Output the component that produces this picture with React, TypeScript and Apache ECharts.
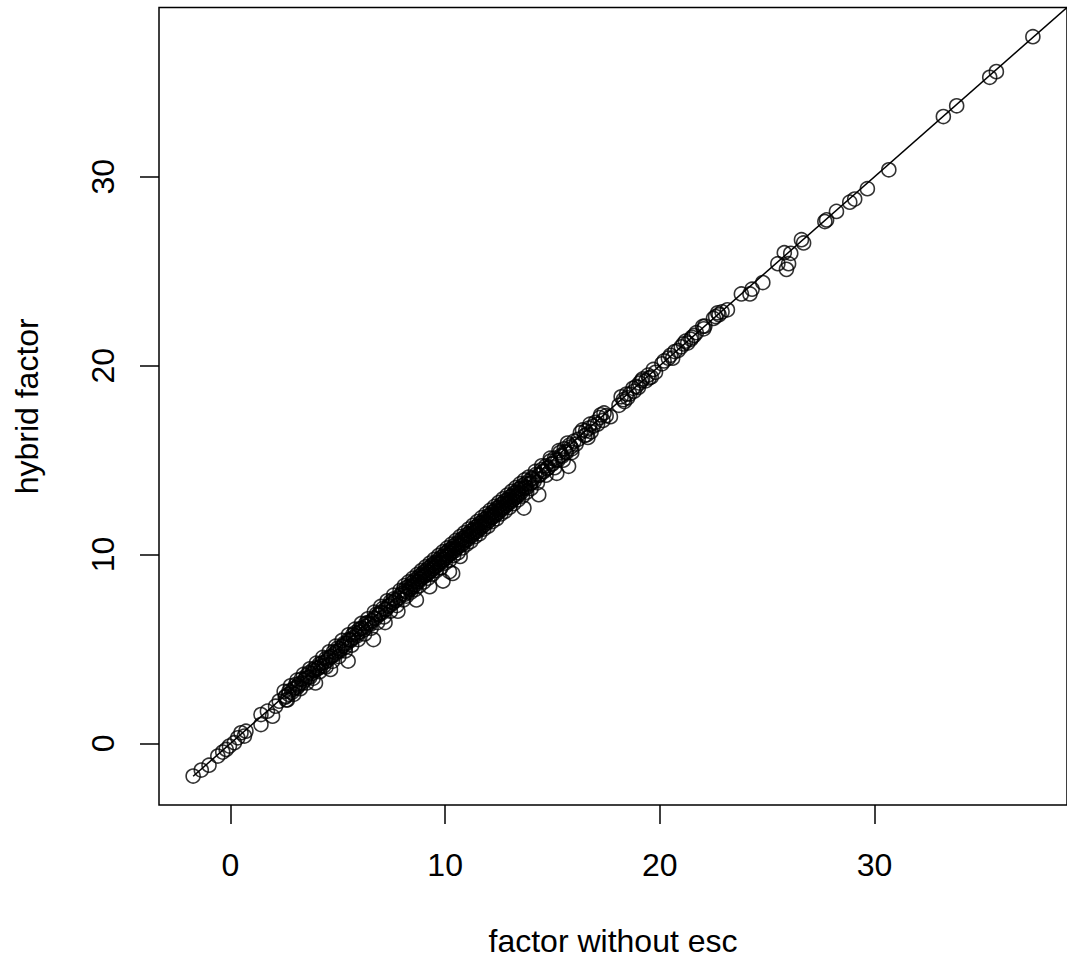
import React, { useEffect, useRef } from "react";
import * as echarts from "echarts";

// Tick labels
const xTicks = [0, 10, 20, 30];
const yTicks = [0, 10, 20, 30];

// Axis ranges (R default 4% expansion)
const xRange = [-3.33, 38.97];
const yRange = [-3.26, 38.96];

// Observations: [factor without esc, hybrid factor]
const lowPoints: [number, number][] = [
  [-1.74, -1.73], [-1.36, -1.41], [-1.0, -1.15], [-0.59, -0.67], [-0.36, -0.46],
  [-0.2, -0.32], [-0.05, -0.14], [0.18, 0.04], [0.34, 0.3], [0.49, 0.56],
  [0.72, 0.65], [0.65, 0.39], [1.42, 1.0], [1.42, 1.53], [1.72, 1.71],
  [1.96, 1.44], [2.1, 1.97], [2.27, 2.24], [2.6, 2.3], [2.57, 2.5],
  [2.73, 2.77], [2.9, 2.85], [3.04, 3.12], [3.1, 2.95], [3.2, 3.15],
];

const midLowPoints: [number, number][] = [
  [3.3, 3.4], [3.45, 3.35], [3.55, 3.6], [3.65, 3.74], [3.7, 3.5],
  [3.85, 3.9], [3.96, 4.0], [3.96, 3.2], [4.05, 3.95], [4.15, 4.2],
  [4.27, 4.26], [4.35, 4.1], [4.45, 4.5], [4.58, 4.53], [4.66, 3.92],
  [4.7, 4.6], [4.8, 4.85], [4.9, 4.8], [5.0, 5.05], [5.1, 4.9],
  [5.2, 5.15], [5.3, 5.3], [5.35, 5.1], [5.48, 4.36], [5.5, 5.5],
  [5.6, 5.45], [5.7, 5.75], [5.8, 5.86], [5.9, 5.7], [6.0, 6.05],
  [6.1, 6.1], [6.2, 6.0], [6.3, 6.35], [6.4, 6.4], [6.5, 6.3],
  [6.66, 5.5], [6.7, 6.65], [6.8, 6.85], [6.9, 6.8], [7.0, 6.95],
  [7.1, 7.15], [7.2, 6.4], [7.25, 7.1], [7.35, 7.26], [7.45, 7.5],
  [7.5, 7.35], [7.6, 7.65], [7.7, 7.55], [7.8, 7.0], [7.9, 7.85],
];

const denseLowPoints: [number, number][] = [
  [2.5, 2.75], [2.65, 2.3], [2.8, 3.05], [2.95, 2.6], [3.1, 3.35],
  [3.25, 2.9], [3.4, 3.65], [3.55, 3.2], [3.7, 3.95], [3.85, 3.45],
  [4.0, 4.25], [4.15, 3.8], [4.3, 4.55], [4.45, 4.05], [4.6, 4.85],
  [4.75, 4.35], [4.9, 5.15], [5.05, 4.6], [5.2, 5.45], [5.35, 4.9],
  [5.5, 5.75], [5.65, 5.2], [5.8, 6.05], [5.95, 5.5], [6.1, 6.35],
  [6.25, 5.8], [6.4, 6.6], [6.55, 6.1], [6.7, 6.95], [6.85, 6.4],
  [7.0, 7.25], [7.15, 6.7], [7.3, 7.55], [7.45, 7.0], [7.6, 7.85],
  [7.75, 7.3], [7.9, 8.1], [8.05, 7.6],
];

const midPoints: [number, number][] = [
  [8.0, 7.95], [8.05, 8.1], [8.12, 7.9], [8.2, 8.25], [8.25, 8.0],
  [8.3, 8.3], [8.38, 8.15], [8.45, 8.5], [8.5, 8.3], [8.55, 8.6],
  [8.62, 8.4], [8.66, 7.6], [8.7, 8.75], [8.75, 8.55], [8.8, 8.85],
  [8.85, 8.7], [8.9, 8.95], [8.95, 8.8], [9.0, 9.05], [9.05, 8.85],
  [9.1, 9.15], [9.15, 8.95], [9.2, 9.25], [9.25, 9.05], [9.28, 8.3],
  [9.3, 9.35], [9.35, 9.15], [9.4, 9.45], [9.45, 9.25], [9.5, 9.55],
  [9.55, 9.35], [9.6, 9.6], [9.65, 9.45], [9.7, 9.75], [9.75, 9.55],
  [9.8, 9.85], [9.85, 9.6], [9.9, 8.6], [9.9, 9.9], [9.95, 9.75],
  [10.0, 10.05], [10.05, 9.85], [10.1, 10.15], [10.15, 9.95], [10.2, 9.1],
  [10.2, 10.25], [10.25, 10.05], [10.3, 10.3], [10.35, 9.0], [10.35, 10.15],
  [10.4, 10.45], [10.45, 10.2], [10.5, 10.55], [10.55, 10.35], [10.6, 10.6],
  [10.65, 10.45], [10.7, 9.9], [10.7, 10.75], [10.75, 10.5], [10.8, 10.85],
  [10.85, 10.6], [10.9, 10.9], [10.95, 10.75], [11.0, 11.05], [11.05, 10.8],
  [11.1, 11.1], [11.15, 10.95], [11.2, 11.25], [11.25, 11.0], [11.3, 11.3],
  [11.35, 11.15], [11.4, 11.45], [11.45, 11.2], [11.5, 11.5], [11.55, 11.3],
  [11.6, 11.65], [11.65, 11.4], [11.7, 11.7], [11.75, 11.5], [11.8, 11.85],
  [11.85, 11.6], [11.9, 11.9], [11.95, 11.7], [12.0, 12.05], [12.05, 11.8],
  [12.1, 12.1], [12.15, 11.95], [12.2, 12.25], [12.25, 12.0], [12.3, 12.3],
  [12.35, 12.1], [12.4, 12.45], [12.45, 12.2], [12.5, 12.5], [12.55, 12.3],
  [12.6, 12.65], [12.65, 12.4], [12.7, 12.7], [12.75, 12.5], [12.8, 12.85],
  [12.85, 12.6], [12.9, 12.9], [12.95, 12.7], [13.0, 13.05], [13.05, 12.8],
  [13.1, 13.1], [13.15, 12.9], [13.2, 13.25], [13.25, 13.0], [13.3, 13.3],
  [13.35, 13.1], [13.4, 13.45], [13.45, 13.2], [13.5, 13.5], [13.55, 13.3],
  [13.6, 13.65], [13.67, 12.46], [13.7, 13.5], [13.75, 13.75], [13.8, 13.55],
  [13.9, 13.9], [14.0, 13.8], [14.05, 14.05], [14.15, 13.9], [14.25, 14.25],
  [14.36, 13.17], [14.4, 14.2], [14.5, 14.5], [14.6, 14.4], [14.7, 14.7],
  [14.8, 14.6], [14.9, 14.95], [15.0, 14.8], [15.1, 15.1], [15.2, 14.3],
  [15.25, 15.0], [15.35, 15.4], [15.45, 15.2], [15.55, 15.6], [15.65, 15.4],
  [15.75, 14.67], [15.8, 15.8], [15.9, 15.6], [16.0, 16.0], [16.1, 15.85],
];

const denseMidPoints: [number, number][] = [
  [8.1, 8.35], [8.2, 7.8], [8.3, 8.55], [8.4, 8.0], [8.5, 8.75],
  [8.6, 8.15], [8.7, 8.95], [8.8, 8.35], [8.9, 9.15], [9.0, 8.55],
  [9.1, 9.35], [9.2, 8.75], [9.3, 9.55], [9.4, 8.95], [9.5, 9.75],
  [9.6, 9.15], [9.7, 9.95], [9.8, 9.3], [9.9, 10.15], [10.0, 9.55],
  [10.1, 10.35], [10.2, 9.7], [10.3, 10.55], [10.4, 9.95], [10.5, 10.75],
  [10.6, 10.1], [10.7, 10.95], [10.8, 10.35], [10.9, 11.15], [11.0, 10.55],
  [11.1, 11.35], [11.2, 10.7], [11.3, 11.55], [11.4, 10.95], [11.5, 11.75],
  [11.6, 11.1], [11.7, 11.95], [11.8, 11.35], [11.9, 12.15], [12.0, 11.5],
  [12.1, 12.35], [12.2, 11.75], [12.3, 12.55], [12.4, 11.9], [12.5, 12.75],
  [12.6, 12.15], [12.7, 12.95], [12.8, 12.3], [12.9, 13.15], [13.0, 12.5],
  [13.1, 13.35], [13.2, 12.7], [13.3, 13.55], [13.4, 12.9], [13.5, 13.75],
  [13.6, 13.1], [13.7, 13.95], [13.8, 13.3], [13.9, 14.1], [14.0, 13.5],
  [14.2, 14.4], [14.3, 13.8], [14.5, 14.7], [14.7, 14.2], [14.9, 15.1],
  [15.1, 14.6], [15.3, 15.5], [15.5, 15.0], [15.7, 15.9], [15.9, 15.4],
];

const bandPoints: [number, number][] = [
  [2.55, 2.45], [2.7, 2.6], [2.85, 2.7], [3.0, 2.95], [3.15, 3.05],
  [3.35, 3.2], [3.5, 3.45], [3.62, 3.5], [3.8, 3.7], [3.92, 3.85],
  [4.1, 4.0], [4.22, 4.1], [4.4, 4.3], [4.52, 4.4], [4.68, 4.6],
  [4.85, 4.7], [4.98, 4.9], [5.12, 5.0], [5.28, 5.2], [5.42, 5.3],
  [5.58, 5.5], [5.72, 5.6], [5.88, 5.8], [6.02, 5.9], [6.15, 6.1],
  [6.32, 6.2], [6.45, 6.35], [6.6, 6.5], [6.75, 6.6], [6.92, 6.85],
  [7.05, 6.9], [7.22, 7.1], [7.38, 7.3], [7.55, 7.45], [7.68, 7.6],
  [7.85, 7.7], [8.15, 8.05], [8.35, 8.2], [8.48, 8.4], [8.68, 8.55],
  [8.82, 8.7], [9.02, 8.9], [9.18, 9.05], [9.38, 9.25], [9.52, 9.4],
  [9.72, 9.6], [9.88, 9.75], [10.08, 9.95], [10.22, 10.1], [10.42, 10.3],
  [10.58, 10.45], [10.78, 10.65], [10.92, 10.8], [11.12, 11.0], [11.28, 11.15],
  [11.48, 11.35], [11.62, 11.5], [11.82, 11.7], [11.98, 11.85], [12.18, 12.05],
  [12.32, 12.2], [12.52, 12.4], [12.68, 12.55], [12.88, 12.75], [13.02, 12.9],
  [13.22, 13.1], [13.38, 13.25], [13.58, 13.45], [13.72, 13.6], [13.95, 13.75],
  [14.1, 14.0], [14.35, 14.2], [14.55, 14.4], [14.75, 14.55], [14.95, 14.8],
  [15.15, 15.0], [15.4, 15.25], [15.6, 15.45], [15.85, 15.7],
];

const highPoints: [number, number][] = [
  [16.4, 16.6], [16.5, 16.3], [16.6, 16.35], [16.7, 16.7], [16.8, 16.5],
  [16.9, 16.8], [17.0, 17.0], [17.2, 17.25], [17.35, 17.1], [17.4, 17.5],
  [17.7, 17.3], [18.1, 17.9], [18.3, 18.2], [18.45, 18.5], [18.6, 18.5],
  [18.75, 18.8], [18.9, 18.9], [19.06, 19.08], [19.2, 19.3], [19.35, 19.2],
  [19.45, 19.5], [19.6, 19.4], [19.7, 19.8], [20.1, 20.1], [20.4, 20.4],
  [20.7, 20.75], [20.85, 20.8], [21.0, 21.0], [21.2, 21.3], [21.45, 21.4],
  [21.6, 21.6], [22.0, 22.08], [22.1, 22.1], [22.5, 22.5], [22.76, 22.7],
  [22.9, 22.85], [23.15, 22.96], [23.8, 23.8], [24.2, 23.8], [24.3, 24.05],
  [24.8, 24.4], [25.5, 25.4], [25.8, 25.98], [26.0, 25.4], [25.9, 25.1],
  [26.1, 25.95],
];

const extraHighPoints: [number, number][] = [
  [16.2, 16.1], [16.3, 16.45], [16.55, 16.55], [16.65, 16.2], [16.75, 16.9],
  [17.1, 16.9], [17.25, 17.4], [17.5, 17.35], [18.2, 18.35], [18.35, 18.1],
  [18.5, 18.3], [18.8, 18.65], [19.0, 18.85], [19.15, 19.2], [19.5, 19.35],
  [19.8, 19.65], [20.2, 20.25], [20.5, 20.55], [20.6, 20.4], [21.1, 21.15],
  [21.3, 21.2], [21.5, 21.5], [21.7, 21.75], [22.05, 21.95], [22.6, 22.6],
  [22.7, 22.8],
];

const topPoints: [number, number][] = [
  [26.6, 26.67], [26.7, 26.5], [27.69, 27.63], [27.77, 27.72], [28.23, 28.17],
  [28.85, 28.66], [29.08, 28.82], [29.67, 29.37], [30.67, 30.37], [33.21, 33.19],
  [33.83, 33.76], [35.37, 35.27], [35.68, 35.57], [37.38, 37.42],
];

// Reference line (y = x), from the lowest observation onward
const fitX = [-1.74, 40];
const fitY = [-1.74, 40];

const FONT = "'Liberation Sans', Arial, Helvetica, sans-serif";
const FS = 32;

export default function App() {
  const ref = useRef<HTMLDivElement>(null);

  useEffect(() => {
    if (!ref.current) return;
    const chart = echarts.init(ref.current, undefined, { renderer: "svg" });
    const points = [
      ...lowPoints, ...midLowPoints, ...denseLowPoints, ...midPoints,
      ...denseMidPoints, ...bandPoints, ...highPoints, ...extraHighPoints, ...topPoints,
    ];
    const lineData = fitX.map((x, i) => [x, fitY[i]]);

    chart.setOption({
      animation: false,
      backgroundColor: "#ffffff",
      grid: {
        left: 159,
        top: 7.6,
        right: -7,
        bottom: 156.4,
        show: true,
        borderColor: "#000",
        borderWidth: 1.5,
        backgroundColor: "transparent",
      },
      xAxis: {
        type: "value",
        min: xRange[0],
        max: xRange[1],
        name: "factor without esc",
        nameLocation: "middle",
        nameGap: 120,
        nameTextStyle: { color: "#000", fontSize: FS, fontFamily: FONT },
        axisLine: { show: false, onZero: false },
        axisTick: {
          show: true,
          inside: false,
          length: 19,
          customValues: xTicks,
          lineStyle: { color: "#000", width: 1.5 },
        },
        axisLabel: {
          show: true,
          customValues: xTicks,
          margin: 44,
          color: "#000",
          fontSize: FS,
          fontFamily: FONT,
        },
        splitLine: { show: false },
      },
      yAxis: {
        type: "value",
        min: yRange[0],
        max: yRange[1],
        name: "hybrid factor",
        nameLocation: "middle",
        nameGap: 116,
        nameRotate: 90,
        nameTextStyle: { color: "#000", fontSize: FS, fontFamily: FONT },
        axisLine: { show: false, onZero: false },
        axisTick: {
          show: true,
          inside: false,
          length: 19,
          customValues: yTicks,
          lineStyle: { color: "#000", width: 1.5 },
        },
        axisLabel: {
          show: true,
          customValues: yTicks,
          rotate: 90,
          margin: 40,
          color: "#000",
          fontSize: FS,
          fontFamily: FONT,
        },
        splitLine: { show: false },
      },
      series: [
        {
          type: "line",
          data: lineData,
          showSymbol: false,
          symbol: "none",
          clip: true,
          lineStyle: { color: "#000", width: 1.5 },
          silent: true,
          z: 1,
        },
        {
          type: "scatter",
          data: points,
          symbol: "circle",
          symbolSize: 14,
          clip: true,
          itemStyle: {
            color: "rgba(0,0,0,0)",
            borderColor: "#000",
            borderWidth: 1.6,
          },
          z: 2,
        },
      ],
    });

    return () => chart.dispose();
  }, []);

  return (
    <div
      ref={ref}
      style={{ position: "absolute", left: 0, top: 0, width: 1067, height: 962, background: "#fff" }}
    />
  );
}
